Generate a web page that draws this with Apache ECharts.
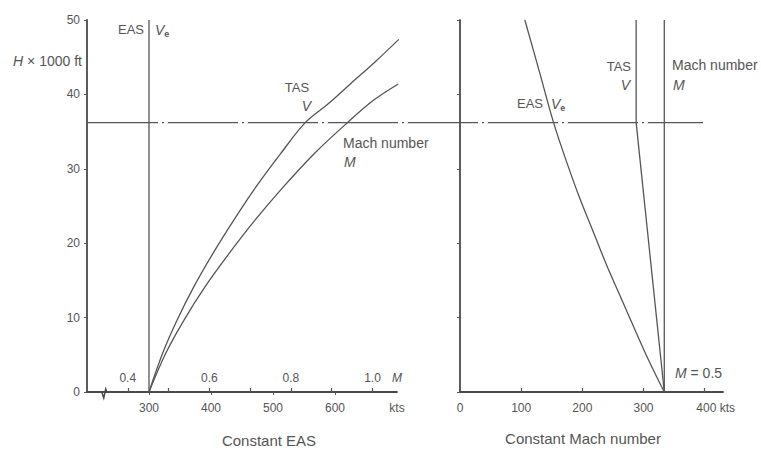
<!DOCTYPE html>
<html>
<head>
<meta charset="utf-8">
<script src="https://cdn.jsdelivr.net/npm/echarts@6/dist/echarts.min.js"></script>
<style>
  html, body { margin: 0; background: #fff; }
  #chart { width: 761px; height: 452px; }
</style>
</head>
<body>
<div id="chart"></div>
<script>
// height in 1000 ft, speeds in kts
const tropopause = 36.2;

// left: constant EAS (Mach curve drawn against the sea-level Mach scale)
const easLeft = [[300, 0], [300, 50]];
const tasLeft = [[300, 0], [322, 5.2], [345, 9.6], [372, 14.1], [403, 18.6], [436, 23.0], [472, 27.5], [512, 32.0], [552, 36.2], [590, 38.8], [626, 41.5], [665, 44.4], [703, 47.4]];
const machLeft = [[300, 0], [327, 5.2], [356, 9.6], [390, 14.1], [429, 18.6], [470, 23.0], [516, 27.5], [566, 32.0], [620, 36.2], [662, 39.2], [702, 41.4]];

// right: constant Mach number M = 0.5
const machRight = [[334, 0], [334, 50]];
const tasRight = [[334, 0], [288, 36.2], [288, 50]];
const easRight = [[334, 0], [310, 4], [288, 8], [264, 12.5], [240, 17], [218, 21.5], [196, 26], [174, 31], [153, 36.2], [130, 43], [106, 50]];

// tropopause line runs across both panels (0 = left axis, 1 = right end)
const tropoLine = [[0, tropopause], [1, tropopause]];

const heightLabels = [0, 10, 20, 30, 40, 50];
const ktsLabelsLeft = [300, 400, 500, 600, 700];
const machTicks = [0.4, 0.5, 0.6, 0.7, 0.8, 0.9, 1.0];
const machLabels = [0.4, 0.6, 0.8, 1.0, 1.06];
const ktsLabelsRight = [0, 100, 200, 300, 400];

const ink = "#555";
const font = "Liberation Sans";
const chart = echarts.init(document.getElementById("chart"), null, { renderer: "svg" });

const axisLine = { show: true, lineStyle: { color: "#4a4a4a", width: 1.8 } };
const labelStyle = { color: ink, fontFamily: font, fontSize: 12 };

function curve(data, xi, yi, extra) {
  return Object.assign({
    type: "line",
    data: data,
    xAxisIndex: xi,
    yAxisIndex: yi,
    symbol: "none",
    silent: true,
    lineStyle: { color: ink, width: 1.3 }
  }, extra || {});
}

function txt(x, y, text, align, size) {
  size = size || 14;
  return {
    type: "text",
    x: x,
    y: y,
    silent: true,
    style: {
      text: text,
      fill: ink,
      font: size + "px " + font,
      align: align || "left",
      verticalAlign: "middle",
      rich: {
        i: { fontStyle: "italic", fontSize: size, fontFamily: font, fill: ink },
        s: { fontSize: 9, fontWeight: "bold", fontFamily: font, fill: ink, padding: [7, 0, 0, 0] }
      }
    }
  };
}

const option = {
  backgroundColor: "#fff",
  animation: false,
  grid: [
    { left: 87, top: 20, width: 310, bottom: 60 },
    { left: 460, top: 20, width: 263, bottom: 60 },
    { left: 88, top: 20, width: 615, bottom: 60 }
  ],
  xAxis: [
    {
      type: "value", gridIndex: 0, min: 200, max: 700,
      axisLine: axisLine,
      splitLine: { show: false },
      axisTick: { customValues: [300, 400, 500, 600], length: 3, lineStyle: { color: ink } },
      axisLabel: Object.assign({
        margin: 10,
        customValues: ktsLabelsLeft,
        formatter: v => (v === 700 ? "kts" : String(v))
      }, labelStyle)
    },
    {
      type: "value", gridIndex: 0, min: 0.3, max: 1.06, position: "bottom",
      axisLine: { show: false },
      splitLine: { show: false },
      axisTick: { inside: true, customValues: machTicks, length: 4, lineStyle: { color: ink, width: 1.2 } },
      axisLabel: Object.assign({
        inside: true,
        margin: 8,
        customValues: machLabels,
        formatter: v => (v > 1.03 ? "{i|M}" : v.toFixed(1)),
        rich: { i: { fontStyle: "italic", fontFamily: font, fontSize: 12, color: ink } }
      }, labelStyle)
    },
    {
      type: "value", gridIndex: 1, min: 0, max: 430,
      axisLine: axisLine,
      splitLine: { show: false },
      axisTick: { inside: true, customValues: [100, 200, 300, 400], length: 4, lineStyle: { color: ink, width: 1.2 } },
      axisLabel: Object.assign({
        margin: 10,
        customValues: ktsLabelsRight,
        formatter: v => (v === 400 ? "{p| }400 kts" : String(v)),
        rich: { p: { width: 22 } }
      }, labelStyle)
    },
    { type: "value", gridIndex: 2, min: 0, max: 1, show: false }
  ],
  yAxis: [
    {
      type: "value", gridIndex: 0, min: 0, max: 50, interval: 10,
      axisLine: axisLine,
      splitLine: { show: false },
      axisTick: { show: true, length: 3, lineStyle: { color: ink } },
      axisLabel: Object.assign({ margin: 7, customValues: heightLabels }, labelStyle)
    },
    {
      type: "value", gridIndex: 1, min: 0, max: 50, interval: 10,
      axisLine: axisLine,
      splitLine: { show: false },
      axisTick: { show: true, length: 3, lineStyle: { color: ink } },
      axisLabel: { show: false }
    },
    { type: "value", gridIndex: 2, min: 0, max: 50, show: false }
  ],
  series: [
    curve(easLeft, 0, 0),
    curve(tasLeft, 0, 0, { smooth: 0.35 }),
    curve(machLeft, 0, 0, { smooth: 0.35 }),
    curve(machRight, 2, 1),
    curve(tasRight, 2, 1),
    curve(easRight, 2, 1, { smooth: 0.35 }),
    curve(tropoLine, 3, 2, { lineStyle: { color: ink, width: 1.4, type: [70, 4, 2, 4] } })
  ],
  graphic: [
    txt(82, 61, "{i|H} × 1000 ft", "right"),
    txt(144, 29, "EAS", "right", 13),
    txt(155, 30, "{i|V}{s|e}", "left"),
    txt(297, 87, "TAS", "center", 13),
    txt(311, 106, "{i|V}", "right"),
    txt(343, 143, "Mach number", "left"),
    txt(344, 162, "{i|M}", "left"),
    txt(517, 103, "EAS", "left", 13),
    txt(551, 104, "{i|V}{s|e}", "left"),
    txt(631, 66, "TAS", "right", 13),
    txt(630, 85, "{i|V}", "right"),
    txt(672, 65, "Mach number", "left"),
    txt(673, 85, "{i|M}", "left"),
    txt(675, 373, "{i|M} = 0.5", "left"),
    txt(269, 440, "Constant EAS", "center", 15),
    txt(583, 438, "Constant Mach number", "center", 15)
  ]
};

chart.setOption(option);

// small break mark on the left speed axis
const bx = chart.convertToPixel({ xAxisIndex: 0 }, 227);
const by = chart.convertToPixel({ yAxisIndex: 0 }, 0);
chart.setOption({
  graphic: option.graphic.concat([
    { type: "rect", silent: true, shape: { x: bx - 4, y: by - 3, width: 8, height: 6 }, style: { fill: "#fff" } },
    {
      type: "polyline", silent: true,
      shape: { points: [[bx - 5, by], [bx - 2, by], [bx, by + 6], [bx + 2, by - 3], [bx + 3, by], [bx + 6, by]] },
      style: { stroke: "#4a4a4a", lineWidth: 1.5, fill: null }
    }
  ])
});

window.addEventListener("resize", function () {
  setTimeout(function () { chart.resize(); }, 200);
});
</script>
</body>
</html>
